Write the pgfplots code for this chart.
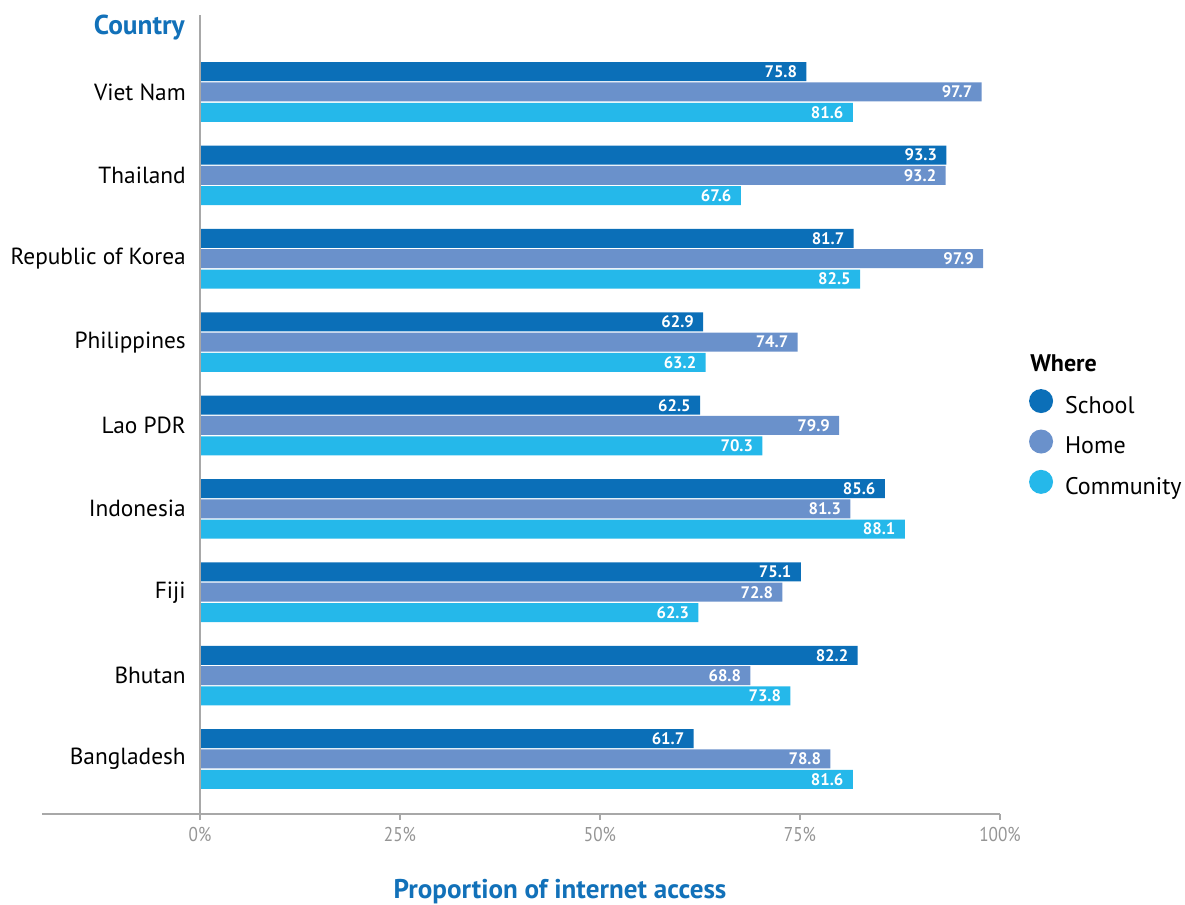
\documentclass[border=0pt]{standalone}
\usepackage{fontspec}
\setmainfont{PT Sans}
\usepackage{graphicx}
\usepackage{pgfplots}
\pgfplotsset{compat=1.18}
\definecolor{cSchool}{HTML}{0B6FB8}
\definecolor{cHome}{HTML}{6A91CB}
\definecolor{cComm}{HTML}{25B8EA}
\definecolor{cTitle}{HTML}{1271B9}
\definecolor{cAxis}{HTML}{A8A8A8}
\definecolor{cTick}{HTML}{959595}
\pgfplotstableread{
y school home comm
8 75.8 97.7 81.6
7 93.3 93.2 67.6
6 81.7 97.9 82.5
5 62.9 74.7 63.2
4 62.5 79.9 70.3
3 85.6 81.3 88.1
2 75.1 72.8 62.3
1 82.2 68.8 73.8
0 61.7 78.8 81.6
}\datatable
\begin{document}
\begin{tikzpicture}
\begin{axis}[
  xbar,
  x=6pt, y=62.53pt,
  xmin=0, xmax=100, ymin=-0.66, ymax=8.92,
  clip=false,
  axis line style={draw=none},
  bar width=14.25pt,
  ytick={0,...,8},
  yticklabels={Bangladesh,Bhutan,Fiji,Indonesia,Lao PDR,Philippines,Republic of Korea,Thailand,Viet Nam},
  ytick style={draw=none},
  yticklabel style={font=\fontsize{17.5}{20}\selectfont, text=black, anchor=east, inner sep=0pt, xshift=-6pt},
  xtick={0,25,50,75,100},
  xticklabels={\scalebox{0.86}[1]{0\%},\scalebox{0.86}[1]{25\%},\scalebox{0.86}[1]{50\%},\scalebox{0.86}[1]{75\%},\scalebox{0.86}[1]{100\%}},
  xtick pos=bottom,
  tick align=outside,
  major tick length=4.5pt,
  xtick style={draw=cAxis, line width=0.9pt},
  xticklabel style={font=\fontsize{15}{17}\selectfont, text=cTick, anchor=center, inner sep=0pt, yshift=-11pt},
  nodes near coords,
  every node near coord/.append style={anchor=east, xshift=-3.5pt, text=white, font=\fontsize{12.5}{14}\selectfont\bfseries},
  /pgf/number format/.cd, fixed, precision=1, fixed zerofill, assume math mode=true,
  /pgfplots/.cd,
  legend style={at={(axis cs:103.6,4.44)}, anchor=north west, draw=none, fill=none,
    font=\fontsize{18}{20}\selectfont, row sep=8.6pt, inner sep=0pt,
    nodes={inner sep=2pt}},
  legend cell align=left,
]
\addplot[fill=cSchool, draw=none, bar shift=15.2pt,
  legend image code/.code={\fill[cSchool] (9pt,0.36em) circle (9pt);}]
  table[x=school, y=y] {\datatable};
\addlegendentry{\hspace{7pt}School}
\addplot[fill=cHome, draw=none, bar shift=0pt,
  legend image code/.code={\fill[cHome] (9pt,0.36em) circle (9pt);}]
  table[x=home, y=y] {\datatable};
\addlegendentry{\hspace{7pt}Home}
\addplot[fill=cComm, draw=none, bar shift=-15.2pt,
  legend image code/.code={\fill[cComm] (9pt,0.36em) circle (9pt);}]
  table[x=comm, y=y] {\datatable};
\addlegendentry{\hspace{7pt}Community}
% axis lines
\draw[cAxis, line width=1.1pt] (axis cs:0,8.92) -- (axis cs:0,-0.66);
\draw[cAxis, line width=1.1pt] (axis cs:-19.75,-0.66) -- (axis cs:100,-0.66);
% titles
\node[anchor=east, inner sep=0pt, text=cTitle, font=\fontsize{20.5}{24}\selectfont\bfseries] at (axis cs:-1.875,8.768) {Country};
\node[anchor=west, inner sep=0pt, text=black, font=\fontsize{18}{20}\selectfont\bfseries] at (axis cs:103.75,4.75) {Where};
\node[anchor=center, inner sep=0pt, text=cTitle, font=\fontsize{20.3}{24}\selectfont\bfseries] at (axis cs:45,-1.585) {Proportion of internet access};
\coordinate (bbA) at (axis cs:-25,9.1034);
\coordinate (bbB) at (axis cs:123.125,-1.7511);
\end{axis}
\pgfresetboundingbox
\path[use as bounding box] (bbA) rectangle (bbB);
\end{tikzpicture}
\end{document}
